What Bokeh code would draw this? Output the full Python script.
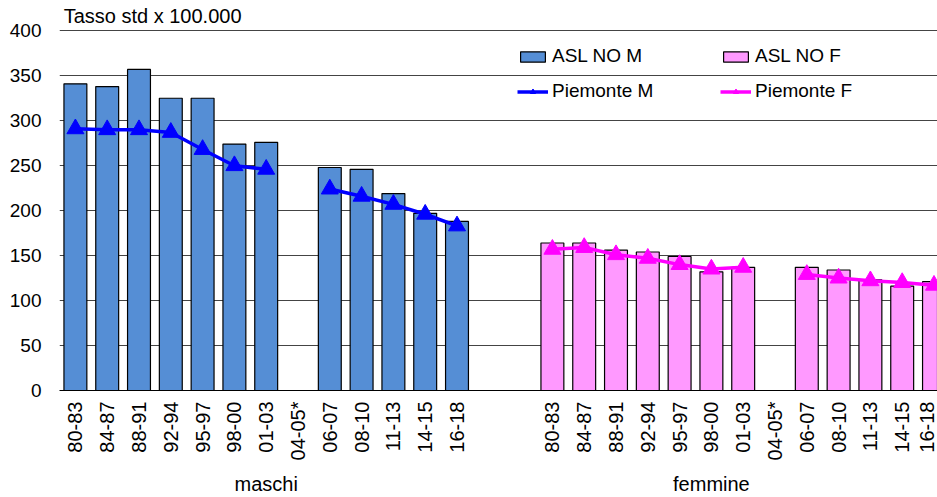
import math
import numpy as np
from bokeh.plotting import figure
from bokeh.models import (Range1d, FixedTicker, LinearAxis, Legend, LegendItem,
                          Label, ColumnDataSource)
from bokeh.embed import file_html
from bokeh.resources import INLINE

# ---------------- data ----------------
periods = ["80-83", "84-87", "88-91", "92-94", "95-97", "98-00", "01-03",
           "04-05*", "06-07", "08-10", "11-13", "14-15", "16-18"]
aslno_m = [341, 338, 357, 325, 325, 274, 276, None, 248, 246, 219, 197, 188]
piemonte_m = [291, 290, 290, 287, 268, 250, 246, None, 224, 216, 207, 196, 183]
aslno_f = [164, 164, 156, 154, 149, 132, 137, None, 137, 134, 123, 116, 121]
piemonte_f = [157, 159, 151, 147, 140, 135, 137, None, 129, 125, 122, 120, 117]
group_labels = ["maschi", "femmine"]
y_label = "Tasso std x 100.000"
series_names = ["ASL NO M", "ASL NO F", "Piemonte M", "Piemonte F"]

# ---------------- positions ----------------
n = len(periods)
male_x = list(range(n))
female_x = [i + n + 2 for i in range(n)]
group_pos = [6, 20]

FONT = "Liberation Sans"

def bars(xs, vals):
    return ColumnDataSource(dict(x=[x for x, v in zip(xs, vals) if v is not None],
                                 top=[v for v in vals if v is not None]))

def lines(xs, vals):
    return ColumnDataSource(dict(x=xs, y=[np.nan if v is None else v for v in vals]))

p = figure(width=937, height=497, x_range=Range1d(-0.5, 27.11),
           y_range=Range1d(0, 433.7), output_backend="svg", toolbar_location=None,
           min_border_left=59, min_border_right=0, min_border_top=0,
           min_border_bottom=107)
p.outline_line_color = None
p.background_fill_color = "white"
p.border_fill_color = "white"

# grid
p.xgrid.visible = False
p.ygrid.grid_line_color = "#444444"
p.ygrid.grid_line_width = 1

# y axis
p.yaxis.ticker = FixedTicker(ticks=list(range(0, 401, 50)))
p.yaxis.axis_line_color = None
p.yaxis.major_tick_line_color = None
p.yaxis.minor_tick_line_color = None
p.yaxis.major_tick_out = 0
p.yaxis.major_tick_in = 0
p.yaxis.major_label_standoff = 18
p.yaxis.major_label_text_font = FONT
p.yaxis.major_label_text_font_size = "19px"
p.yaxis.major_label_text_color = "black"

# x axis (periods)
xa = p.xaxis[0]
xa.ticker = FixedTicker(ticks=male_x + female_x)
overrides = {}
for i, lab in enumerate(periods):
    overrides[male_x[i]] = lab
    overrides[female_x[i]] = lab
xa.major_label_overrides = overrides
xa.major_label_orientation = math.pi / 2
xa.axis_line_color = "black"
xa.axis_line_width = 1.2
xa.major_tick_line_color = None
xa.minor_tick_line_color = None
xa.major_tick_out = 0
xa.major_tick_in = 0
xa.major_label_standoff = 11
xa.major_label_text_font = FONT
xa.major_label_text_font_size = "20px"
xa.major_label_text_color = "black"

# group axis
ax2 = LinearAxis(ticker=FixedTicker(ticks=group_pos),
                 major_label_overrides={group_pos[0]: group_labels[0],
                                        group_pos[1]: group_labels[1]},
                 axis_line_color=None, major_tick_line_color=None,
                 minor_tick_line_color=None, major_tick_out=0, major_tick_in=0,
                 major_label_standoff=9, major_label_text_font=FONT,
                 major_label_text_font_size="20px",
                 major_label_text_color="black")
p.add_layout(ax2, "below")

# bars
bm = p.vbar(x="x", top="top", width=0.72, source=bars(male_x, aslno_m),
            fill_color="#558ED5", line_color="black", line_width=1.2)
bf = p.vbar(x="x", top="top", width=0.72, source=bars(female_x, aslno_f),
            fill_color="#FF99FF", line_color="black", line_width=1.2)

# lines
lm = p.line(x="x", y="y", source=lines(male_x, piemonte_m), line_color="#0000FF",
            line_width=3.5)
sm = p.scatter(x="x", y="y", source=lines(male_x, piemonte_m), marker="triangle",
               size=17, fill_color="#0000FF", line_color="#0000FF")
lf = p.line(x="x", y="y", source=lines(female_x, piemonte_f), line_color="#FF00FF",
            line_width=3.5)
sf = p.scatter(x="x", y="y", source=lines(female_x, piemonte_f), marker="triangle",
               size=17, fill_color="#FF00FF", line_color="#FF00FF")

# axis title
p.add_layout(Label(x=-0.37, y=416, text=y_label, text_baseline="middle",
                   text_font=FONT, text_font_size="20px", text_color="black"))

def make_legend(items, loc):
    return Legend(items=items, location=loc, border_line_color=None,
                  background_fill_alpha=0, padding=0, margin=0, spacing=13,
                  glyph_width=31, glyph_height=13, label_standoff=4,
                  label_height=20, label_text_font=FONT,
                  label_text_font_size="19px", label_text_color="black")

leg1 = make_legend([LegendItem(label=series_names[0], renderers=[bm]),
                    LegendItem(label=series_names[2], renderers=[lm, sm])], (458, 288))
leg2 = make_legend([LegendItem(label=series_names[1], renderers=[bf]),
                    LegendItem(label=series_names[3], renderers=[lf, sf])], (661, 288))
p.add_layout(leg1)
p.add_layout(leg2)

open("out.html", "w").write(file_html(p, INLINE))
